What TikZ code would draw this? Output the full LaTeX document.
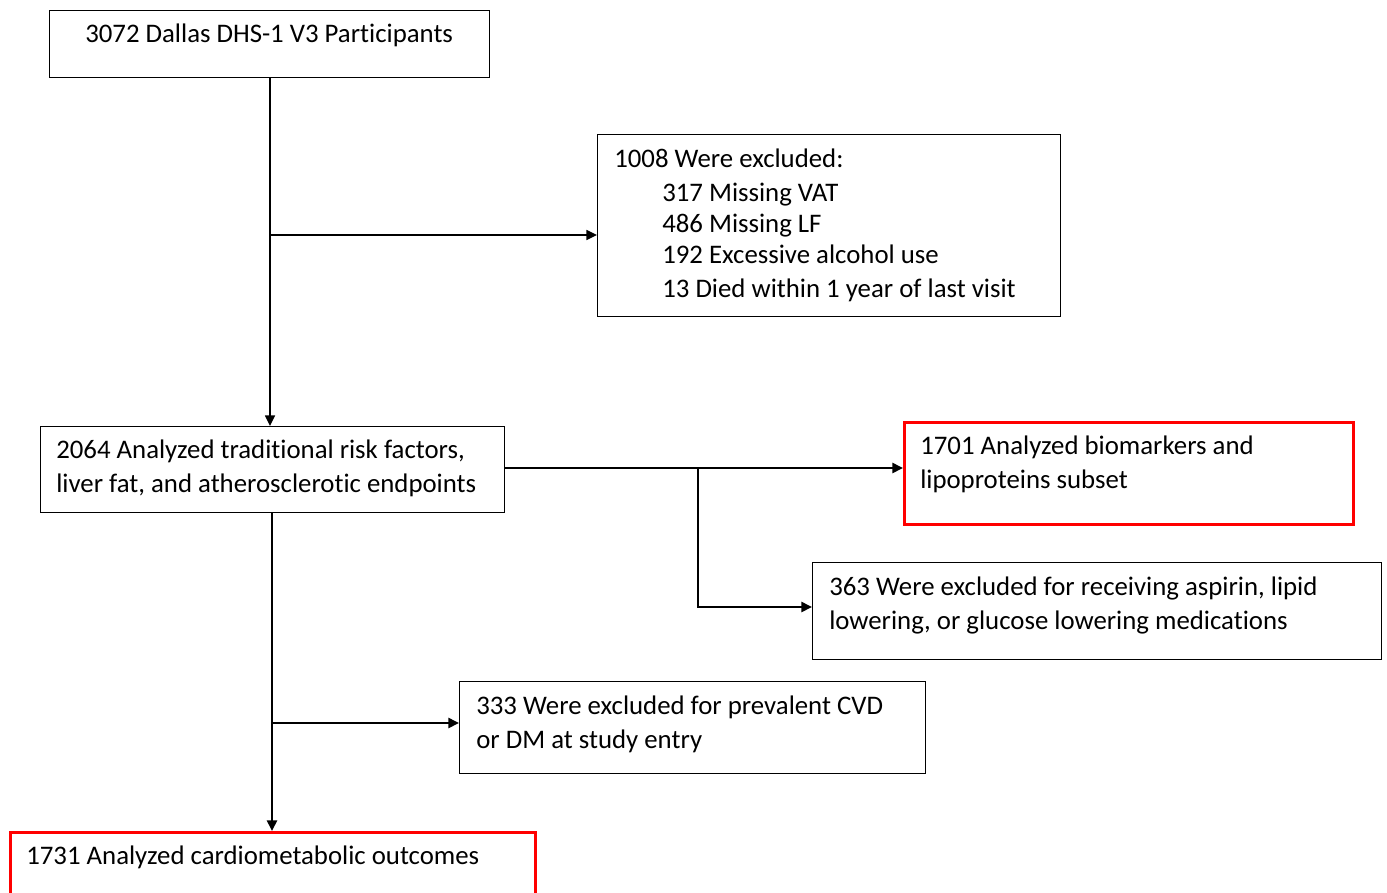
\documentclass[tikz,border=0pt]{standalone}
\usepackage{fontspec}
\setmainfont{Carlito}[Ligatures={NoCommon,TeX}]
\usetikzlibrary{arrows.meta}
\begin{document}
\begin{tikzpicture}[x=0.75pt,y=-0.75pt,
  box/.style={draw=black,line width=1.1pt,inner sep=0pt},
  redbox/.style={draw=red,line width=2.4pt,inner sep=0pt},
  txt/.style={anchor=base west,inner sep=0pt,font=\fontsize{20.1}{25.5}\selectfont},
  conn/.style={line width=1.1pt},
  connb/.style={line width=1.9pt},
  arr/.style={-{Triangle[length=8pt,width=7.5pt]}}]
\useasboundingbox (0,0) rectangle (1387,892);
% boxes
\node[box,minimum width=440*0.75pt,minimum height=67*0.75pt,anchor=north west] (A) at (49,10) {};
\node[box,minimum width=463*0.75pt,minimum height=182*0.75pt,anchor=north west] (B) at (597,134) {};
\node[box,minimum width=464*0.75pt,minimum height=86*0.75pt,anchor=north west] (C) at (40,426) {};
\node[redbox,minimum width=449*0.75pt,minimum height=102*0.75pt,anchor=north west] (D) at (903,421) {};
\node[box,minimum width=569*0.75pt,minimum height=97*0.75pt,anchor=north west] (E) at (812,562) {};
\node[box,minimum width=466*0.75pt,minimum height=92*0.75pt,anchor=north west] (F) at (459,681) {};
\node[redbox,minimum width=525*0.75pt,minimum height=100*0.75pt,anchor=north west] (G) at (9,831) {};
% texts
\node[txt] (a1) at (85,43) {3072 Dallas DHS-1 V3 Participants};
\node[txt] (b1) at (614,167) {1008 Were excluded:};
\node[txt] (b2) at (662,201) {317 Missing VAT};
\node[txt] (b3) at (662,232) {486 Missing LF};
\node[txt] (b4) at (662,263) {192 Excessive alcohol use};
\node[txt] (b5) at (662,297) {13 Died within 1 year of last visit};
\node[txt] (c1) at (56,458) {2064 Analyzed traditional risk factors,};
\node[txt] (c2) at (56,492) {liver fat, and atherosclerotic endpoints};
\node[txt] (d1) at (920,454) {1701 Analyzed biomarkers and};
\node[txt] (d2) at (920,488) {lipoproteins subset};
\node[txt] (e1) at (829,595) {363 Were excluded for receiving aspirin, lipid};
\node[txt] (e2) at (829,629) {lowering, or glucose lowering medications};
\node[txt] (f1) at (476,714) {333 Were excluded for prevalent CVD};
\node[txt] (f2) at (476,748) {or DM at study entry};
\node[txt] (g1) at (26,864) {1731 Analyzed cardiometabolic outcomes};
% connectors
\coordinate (j1) at (270,235);
\coordinate (j2) at (698,468);
\coordinate (j3) at (272,723);
\draw[conn,arr] (A.south -| j1) -- (C.north -| j1);
\draw[conn,arr] (j1) -- (j1 -| B.west);
\draw[connb,arr] (C.east |- j2) -- (j2 -| D.west);
\draw[connb,arr] (j2) |- (E.west |- 0,607);
\draw[connb,arr] (C.south -| j3) -- (G.north -| j3);
\draw[connb,arr] (j3) -- (j3 -| F.west);
\end{tikzpicture}
\end{document}
